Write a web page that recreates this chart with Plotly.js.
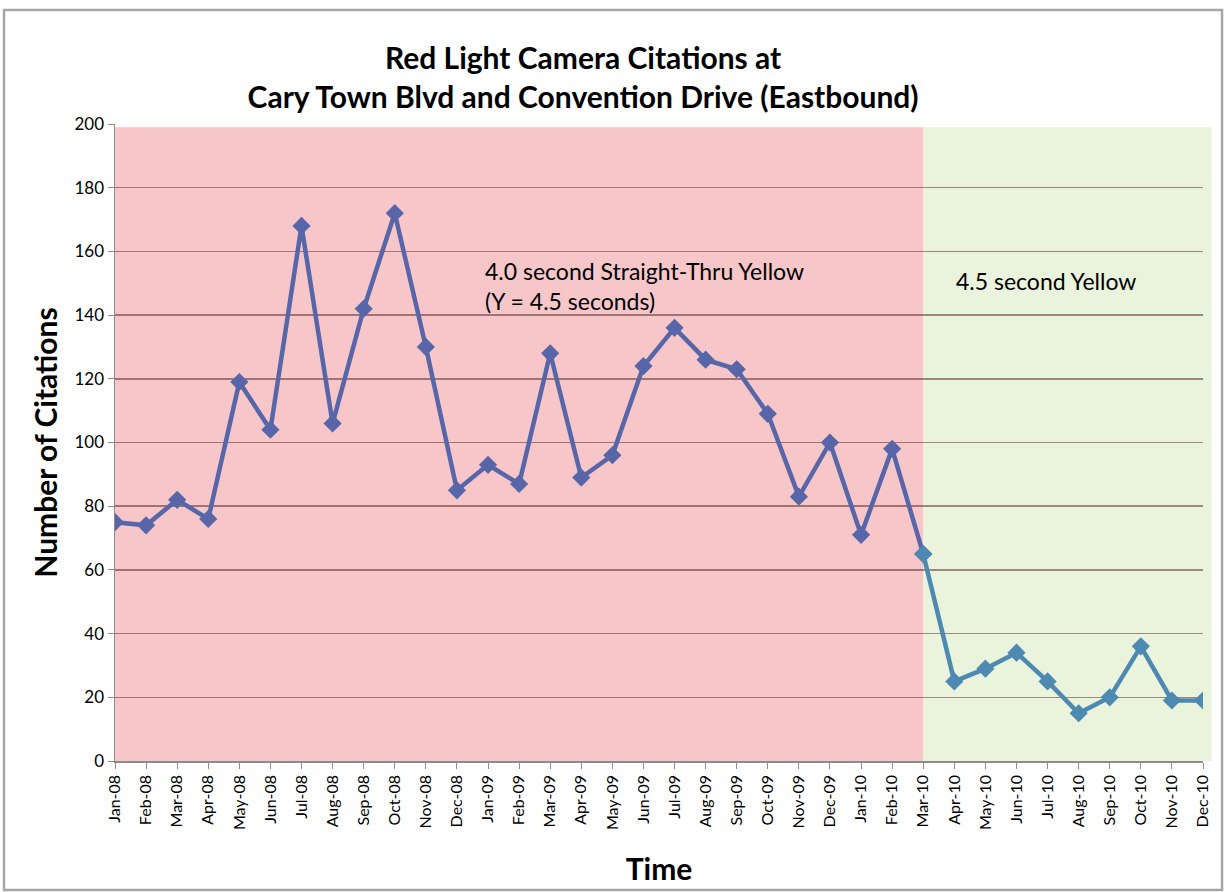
<!DOCTYPE html>
<html>
<head>
<meta charset="utf-8">
<script src="https://cdn.plot.ly/plotly-3.0.1.min.js"></script>
<style>html,body{margin:0;padding:0;background:#fff;}#chart{width:1225px;height:892px;}</style>
</head>
<body>
<div id="chart"></div>
<script>
const months = ["Jan-08","Feb-08","Mar-08","Apr-08","May-08","Jun-08","Jul-08","Aug-08","Sep-08","Oct-08","Nov-08","Dec-08",
"Jan-09","Feb-09","Mar-09","Apr-09","May-09","Jun-09","Jul-09","Aug-09","Sep-09","Oct-09","Nov-09","Dec-09",
"Jan-10","Feb-10","Mar-10","Apr-10","May-10","Jun-10","Jul-10","Aug-10","Sep-10","Oct-10","Nov-10","Dec-10"];
const citations = [75,74,82,76,119,104,168,106,142,172,130,85,
93,87,128,89,96,124,136,126,123,109,83,100,
71,98,65,25,29,34,25,15,20,36,19,19];
const changeIndex = 26; // Mar-10: yellow change
const beforeMonths = months.slice(0, changeIndex + 1);
const beforeValues = citations.slice(0, changeIndex + 1);
const afterMonths = months.slice(changeIndex);
const afterValues = citations.slice(changeIndex);
const yTicks = [0,20,40,60,80,100,120,140,160,180,200];

const font = "Lato, 'Open Sans', sans-serif";
const traces = [
  {x: beforeMonths, y: beforeValues, type: 'scatter', mode: 'lines+markers',
   line: {color: '#5766A8', width: 4.5}, marker: {symbol: 'diamond', size: 14, color: '#5766A8'}, hoverinfo: 'x+y'},
  {x: afterMonths, y: afterValues, type: 'scatter', mode: 'lines+markers',
   line: {color: '#4D89B0', width: 4.5}, marker: {symbol: 'diamond', size: 14, color: '#4D89B0'}, hoverinfo: 'x+y'}
];
const splitFrac = changeIndex / (months.length - 1);
const layout = {
  width: 1225, height: 892,
  margin: {l: 115, r: 22, t: 124, b: 131},
  paper_bgcolor: '#ffffff', plot_bgcolor: 'rgba(0,0,0,0)',
  showlegend: false,
  font: {family: font, color: '#000'},
  title: {text: '<b>Red Light Camera Citations at<br>Cary Town Blvd and Convention Drive (Eastbound)</b>',
          x: 0.476, xanchor: 'center', y: 0.923, yanchor: 'middle',
          font: {size: 30, family: font, color: '#000'}},
  xaxis: {type: 'category', categoryarray: months, range: [0, months.length - 1],
          tickangle: -90, tickfont: {size: 16, family: font}, showgrid: false,
          showline: true, linecolor: '#8c8c8c', linewidth: 1.5,
          ticks: 'outside', ticklen: 6, tickcolor: '#8c8c8c',
          title: {text: '<b>Time</b>', font: {size: 30, family: font}, standoff: 30}},
  yaxis: {range: [0, 200], tickvals: yTicks, tickfont: {size: 17, family: font},
          showgrid: true, gridcolor: 'rgba(90,50,50,0.55)', gridwidth: 1.5, zeroline: false,
          showline: true, linecolor: '#8c8c8c', linewidth: 1.5,
          ticks: 'outside', ticklen: 6, tickcolor: '#8c8c8c',
          title: {text: '<b>Number of Citations</b>', font: {size: 30, family: font}, standoff: 8}},
  shapes: [
    {type: 'rect', xref: 'paper', yref: 'paper', x0: 0, x1: splitFrac, y0: 0, y1: 0.995,
     fillcolor: '#F6C6C8', line: {width: 0}, layer: 'below'},
    {type: 'rect', xref: 'paper', yref: 'paper', x0: splitFrac, x1: 1.008, y0: 0, y1: 0.995,
     fillcolor: '#EAF3DC', line: {width: 0}, layer: 'below'},
    {type: 'rect', xref: 'paper', yref: 'paper', x0: -0.102, x1: 1.0175, y0: -0.2025, y1: 1.179,
     fillcolor: 'rgba(0,0,0,0)', line: {color: '#a6a6a6', width: 2.5}, layer: 'below'}
  ],
  annotations: [
    {xref: 'paper', yref: 'paper', x: 0.3385, y: 0.746, xanchor: 'left', yanchor: 'middle', align: 'left',
     showarrow: false, text: '4.0 second Straight-Thru Yellow<br>(Y = 4.5 seconds)',
     font: {size: 23, family: font, color: '#000'}},
    {xref: 'paper', yref: 'paper', x: 0.7715, y: 0.753, xanchor: 'left', yanchor: 'middle', align: 'left',
     showarrow: false, text: '4.5 second Yellow', font: {size: 23, family: font, color: '#000'}}
  ]
};
Plotly.newPlot('chart', traces, layout, {displayModeBar: false, staticPlot: true});
</script>
</body>
</html>
